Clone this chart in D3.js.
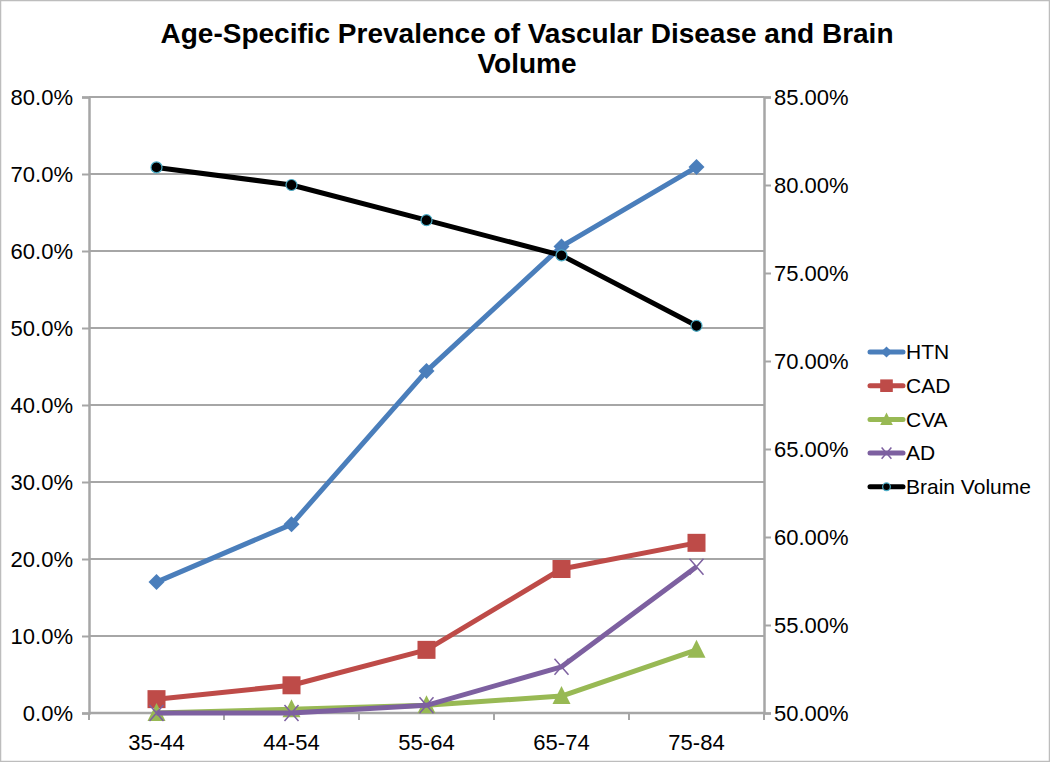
<!DOCTYPE html>
<html><head><meta charset="utf-8">
<script src="https://cdn.jsdelivr.net/npm/d3@7"></script>
<style>body{margin:0;background:#fff}svg{display:block}</style>
</head><body>
<svg id="c" width="1050" height="762"></svg>
<script>
const categories = ["35-44","44-54","55-64","65-74","75-84"];
const htn = [17.0, 24.5, 44.4, 60.6, 70.9];
const cad = [1.8, 3.6, 8.2, 18.7, 22.1];
const cva = [0.0, 0.5, 1.0, 2.2, 8.2];
const ad = [0.0, 0.0, 1.0, 6.0, 19.0];
const brain = [81.0, 80.0, 78.0, 76.0, 72.0];
const leftTicks = [0,10,20,30,40,50,60,70,80];
const rightTicks = [50,55,60,65,70,75,80,85];
const seriesNames = ["HTN","CAD","CVA","AD","Brain Volume"];

const svg = d3.select("#c");
const font = "Arial, 'Liberation Sans', sans-serif";
const L = 89, R = 764, T = 97, B = 713;
const x = d3.scaleBand().domain(categories).range([L, R]);
const yL = d3.scaleLinear().domain([0, 80]).range([B, T]);
const yR = d3.scaleLinear().domain([50, 85]).range([B, T]);
const grey = "#a6a6a6";

svg.append("rect").attr("x",0.5).attr("y",0.5).attr("width",1049).attr("height",761)
  .attr("fill","#fff").attr("stroke","#bdbdbd").attr("stroke-width",1.5);

svg.append("text").attr("x",527).attr("y",43).attr("text-anchor","middle")
  .attr("font-family",font).attr("font-weight","bold").attr("font-size",28)
  .text("Age-Specific Prevalence of Vascular Disease and Brain");
svg.append("text").attr("x",527).attr("y",73).attr("text-anchor","middle")
  .attr("font-family",font).attr("font-weight","bold").attr("font-size",28)
  .text("Volume");

// gridlines
svg.append("g").selectAll("line").data(leftTicks.filter(d=>d>0)).join("line")
  .attr("x1",L).attr("x2",R).attr("y1",d=>yL(d)).attr("y2",d=>yL(d))
  .attr("stroke",grey).attr("stroke-width",2);

// left axis
const ga = svg.append("g").attr("transform",`translate(${L},0)`)
  .call(d3.axisLeft(yL).tickValues(leftTicks).tickFormat(d=>d.toFixed(1)+"%").tickSize(7).tickPadding(9));
// right axis
const gr = svg.append("g").attr("transform",`translate(${R},0)`)
  .call(d3.axisRight(yR).tickValues(rightTicks).tickFormat(d=>d.toFixed(2)+"%").tickSize(7).tickPadding(3));
// bottom axis
const gb = svg.append("g").attr("transform",`translate(0,${B})`)
  .call(d3.axisBottom(x).tickSize(0).tickPadding(21));
svg.append("g").selectAll("line").data(d3.range(categories.length+1)).join("line")
  .attr("x1",i=>L+i*x.step()).attr("x2",i=>L+i*x.step()).attr("y1",B).attr("y2",B+7)
  .attr("stroke",grey).attr("stroke-width",2);
[ga,gr,gb].forEach(g=>{
  g.selectAll("path.domain").attr("stroke",grey).attr("stroke-width",2.5);
  g.selectAll(".tick line").attr("stroke",grey).attr("stroke-width",2);
  g.selectAll("text").attr("font-family",font).attr("font-size",22).attr("fill","#000");
});
gb.select("path.domain").attr("d",`M${L},0H${R}`);
gb.selectAll(".tick text").attr("dy","0.71em");

const cx = d => x(d) + x.bandwidth()/2;
const series = [
  {name:"HTN", vals:htn, color:"#4a7ebb", y:yL, marker:"diamond"},
  {name:"CAD", vals:cad, color:"#be4b48", y:yL, marker:"square"},
  {name:"CVA", vals:cva, color:"#98b954", y:yL, marker:"triangle"},
  {name:"AD", vals:ad, color:"#7d60a0", y:yL, marker:"x"},
  {name:"Brain Volume", vals:brain, color:"#000", y:yR, marker:"circle"}
];

function drawMarker(g, type, color, px, py, scale){
  const s = scale||1;
  if(type==="diamond"){
    g.append("path").attr("d",`M${px},${py-8*s}L${px+8*s},${py}L${px},${py+8*s}L${px-8*s},${py}Z`).attr("fill",color);
  } else if(type==="square"){
    g.append("rect").attr("x",px-9*s).attr("y",py-9*s).attr("width",18*s).attr("height",18*s).attr("fill",color);
  } else if(type==="triangle"){
    g.append("path").attr("d",`M${px},${py-10*s}L${px+9*s},${py+8*s}L${px-9*s},${py+8*s}Z`).attr("fill",color);
  } else if(type==="x"){
    g.append("path").attr("d",`M${px-7*s},${py-8*s}L${px+7*s},${py+8*s}M${px+7*s},${py-8*s}L${px-7*s},${py+8*s}`)
      .attr("stroke",color).attr("stroke-width",1.5).attr("fill","none");
  } else if(type==="circle"){
    g.append("circle").attr("cx",px).attr("cy",py).attr("r",5.5*s).attr("fill","#000").attr("stroke","#4bacc6").attr("stroke-width",1.2);
  }
}

const line = d3.line();
series.forEach(s=>{
  const g = svg.append("g");
  const pts = s.vals.map((v,i)=>[cx(categories[i]), s.y(v)]);
  g.append("path").attr("d",line(pts)).attr("fill","none").attr("stroke",s.color)
    .attr("stroke-width",5).attr("stroke-linejoin","round");
  pts.forEach(p=>drawMarker(g, s.marker, s.color, p[0], p[1]));
});

// legend
const lg = svg.append("g");
series.forEach((s,i)=>{
  const ly = 352 + i*33.7;
  lg.append("line").attr("x1",870).attr("x2",903).attr("y1",ly).attr("y2",ly)
    .attr("stroke",s.color).attr("stroke-width",5).attr("stroke-linecap","round");
  drawMarker(lg, s.marker, s.color, 886.5, ly, 0.7);
  lg.append("text").attr("x",906).attr("y",ly).attr("dy","0.35em")
    .attr("font-family",font).attr("font-size",21).text(s.name);
});
</script>
</body></html>
